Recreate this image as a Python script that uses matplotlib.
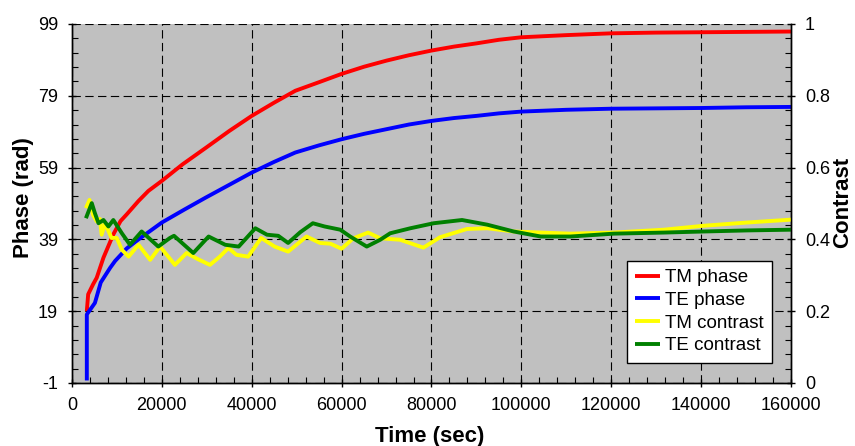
import numpy as np
import matplotlib
matplotlib.use("Agg")
import matplotlib.pyplot as plt

plt.rcParams['font.family'] = ['Liberation Sans', 'DejaVu Sans']
plt.rcParams['axes.unicode_minus'] = False

# TM / TE phase (rad), left axis
t_tm_phase = [3300, 3600, 4700, 5500, 7000, 9200, 10800, 12200, 14800, 17000,
              20000, 24600, 30000, 35000, 40000, 45000, 49700, 55000, 60000,
              65000, 70000, 75000, 80000, 85000, 90000, 95000, 100000, 110000,
              120000, 130000, 140000, 150000, 160000]
tm_phase = [19.0, 23.7, 26.5, 28.3, 33.9, 40.4, 44.1, 46.0, 49.7, 52.5,
            55.3, 59.9, 64.7, 69.2, 73.4, 77.1, 80.4, 82.8, 85.1,
            87.1, 88.8, 90.3, 91.6, 92.7, 93.6, 94.6, 95.3, 95.9,
            96.4, 96.6, 96.7, 96.8, 96.9]

t_te_phase = [3300, 3300, 5100, 6400, 8500, 9600, 12200, 14800, 20000, 25000,
              29700, 35000, 40000, 45000, 49700, 55000, 60000, 65000, 70000,
              75000, 80000, 85000, 90000, 95000, 100000, 110000, 120000,
              130000, 140000, 150000, 160000]
te_phase = [-0.3, 18.1, 21.3, 27.0, 31.1, 33.0, 36.5, 39.0, 43.7, 47.3,
            50.6, 54.2, 57.6, 60.6, 63.2, 65.2, 66.9, 68.4, 69.7,
            71.0, 72.0, 72.8, 73.4, 74.1, 74.6, 75.1, 75.4,
            75.5, 75.6, 75.8, 75.9]

# TM / TE contrast, right axis
t_tm_contrast = [3100, 3900, 4700, 5500, 6200, 6600, 7350, 8800, 9960, 11100,
                 12600, 14800, 17400, 19600, 22900, 25500, 28000, 30700, 32900,
                 34800, 36600, 39200, 42100, 45100, 48100, 52200, 55200, 57500,
                 60000, 62600, 65900, 68600, 73000, 78200, 81900, 87900, 92400,
                 98300, 104300, 110900, 120600, 131700, 140600, 150300, 160000]
tm_contrast = [0.487, 0.510, 0.468, 0.450, 0.457, 0.413, 0.445, 0.404, 0.404, 0.371,
               0.352, 0.385, 0.343, 0.380, 0.329, 0.362, 0.345, 0.329, 0.352,
               0.376, 0.357, 0.352, 0.404, 0.380, 0.366, 0.408, 0.390, 0.388,
               0.374, 0.403, 0.419, 0.403, 0.399, 0.377, 0.406, 0.429, 0.431,
               0.422, 0.419, 0.416, 0.419, 0.427, 0.438, 0.447, 0.455]

t_te_contrast = [3100, 4400, 5100, 5900, 7000, 8100, 9200, 11100, 12900, 15500,
                 19200, 21800, 22700, 27000, 30400, 34100, 37100, 40800, 43400,
                 45900, 48100, 50800, 53600, 56200, 59700, 61900, 65600, 68600,
                 70800, 75300, 80500, 86800, 92400, 98300, 104300, 110900,
                 120600, 131700, 140600, 150300, 160000]
te_contrast = [0.459, 0.501, 0.473, 0.445, 0.454, 0.436, 0.454, 0.417, 0.385, 0.422,
               0.380, 0.404, 0.410, 0.362, 0.408, 0.385, 0.380, 0.431, 0.413,
               0.410, 0.390, 0.420, 0.445, 0.436, 0.427, 0.408, 0.380, 0.399,
               0.417, 0.431, 0.445, 0.454, 0.441, 0.422, 0.408, 0.408,
               0.416, 0.419, 0.422, 0.425, 0.427]

fig = plt.figure(figsize=(8.55, 4.46), dpi=100)
ax = fig.add_axes([0.0842, 0.1413, 0.8409, 0.8049])
ax.set_facecolor('#c0c0c0')
ax2 = ax.twinx()

style = dict(lw=2.8, solid_joinstyle='round', solid_capstyle='butt')
l1, = ax.plot(t_tm_phase, tm_phase, color='#ff0000', label='TM phase', **style)
l2, = ax.plot(t_te_phase, te_phase, color='#0000ff', label='TE phase', **style)
l3, = ax2.plot(t_tm_contrast, tm_contrast, color='#ffff00', label='TM contrast', **style)
l4, = ax2.plot(t_te_contrast, te_contrast, color='#008000', label='TE contrast', **style)

ax.set_xlim(0, 160000)
ax.set_ylim(-1, 99)
ax2.set_ylim(0, 1)

ax.set_xticks(np.arange(0, 160001, 20000))
ax.set_xticks(np.arange(0, 160001, 4000), minor=True)
ax.set_yticks(np.arange(-1, 100, 20))
ax.set_yticks(np.arange(-1, 100, 4), minor=True)
ax2.set_yticks(np.arange(0, 1.01, 0.2))
ax2.set_yticks(np.arange(0, 1.01, 0.04), minor=True)
ax2.set_yticklabels(['0', '0.2', '0.4', '0.6', '0.8', '1'])

ax.grid(which='major', color='black', linestyle=(0, (7.5, 4)), lw=0.8)
ax.set_axisbelow(True)

for a in (ax, ax2):
    a.spines['top'].set_visible(False)
    for s in a.spines.values():
        s.set_linewidth(1.0)
    a.tick_params(which='major', direction='inout', length=6, width=1,
                  labelsize=13, pad=7)
    a.tick_params(which='minor', direction='in', length=4, width=0.8)

fig.text(0.028, 0.556, 'Phase (rad)', rotation=90, ha='center', va='center',
         fontsize=16, fontweight='bold')
fig.text(0.986, 0.547, 'Contrast', rotation=90, ha='center', va='center',
         fontsize=16, fontweight='bold')
fig.text(0.503, 1 - 442 / 446, 'Time (sec)', ha='center', va='baseline',
         fontsize=16, fontweight='bold')

leg = ax2.legend(handles=[l1, l2, l3, l4], loc='lower right',
                 bbox_to_anchor=(0.974, 0.056), borderaxespad=0,
                 fontsize=13.5, frameon=True, fancybox=False,
                 handlelength=1.3, handletextpad=0.3, labelspacing=0.3,
                 borderpad=0.45)
leg.get_frame().set_edgecolor('black')
leg.get_frame().set_facecolor('white')
leg.get_frame().set_alpha(1)
leg.get_frame().set_linewidth(1.0)

fig.savefig('out.png', dpi=100)
